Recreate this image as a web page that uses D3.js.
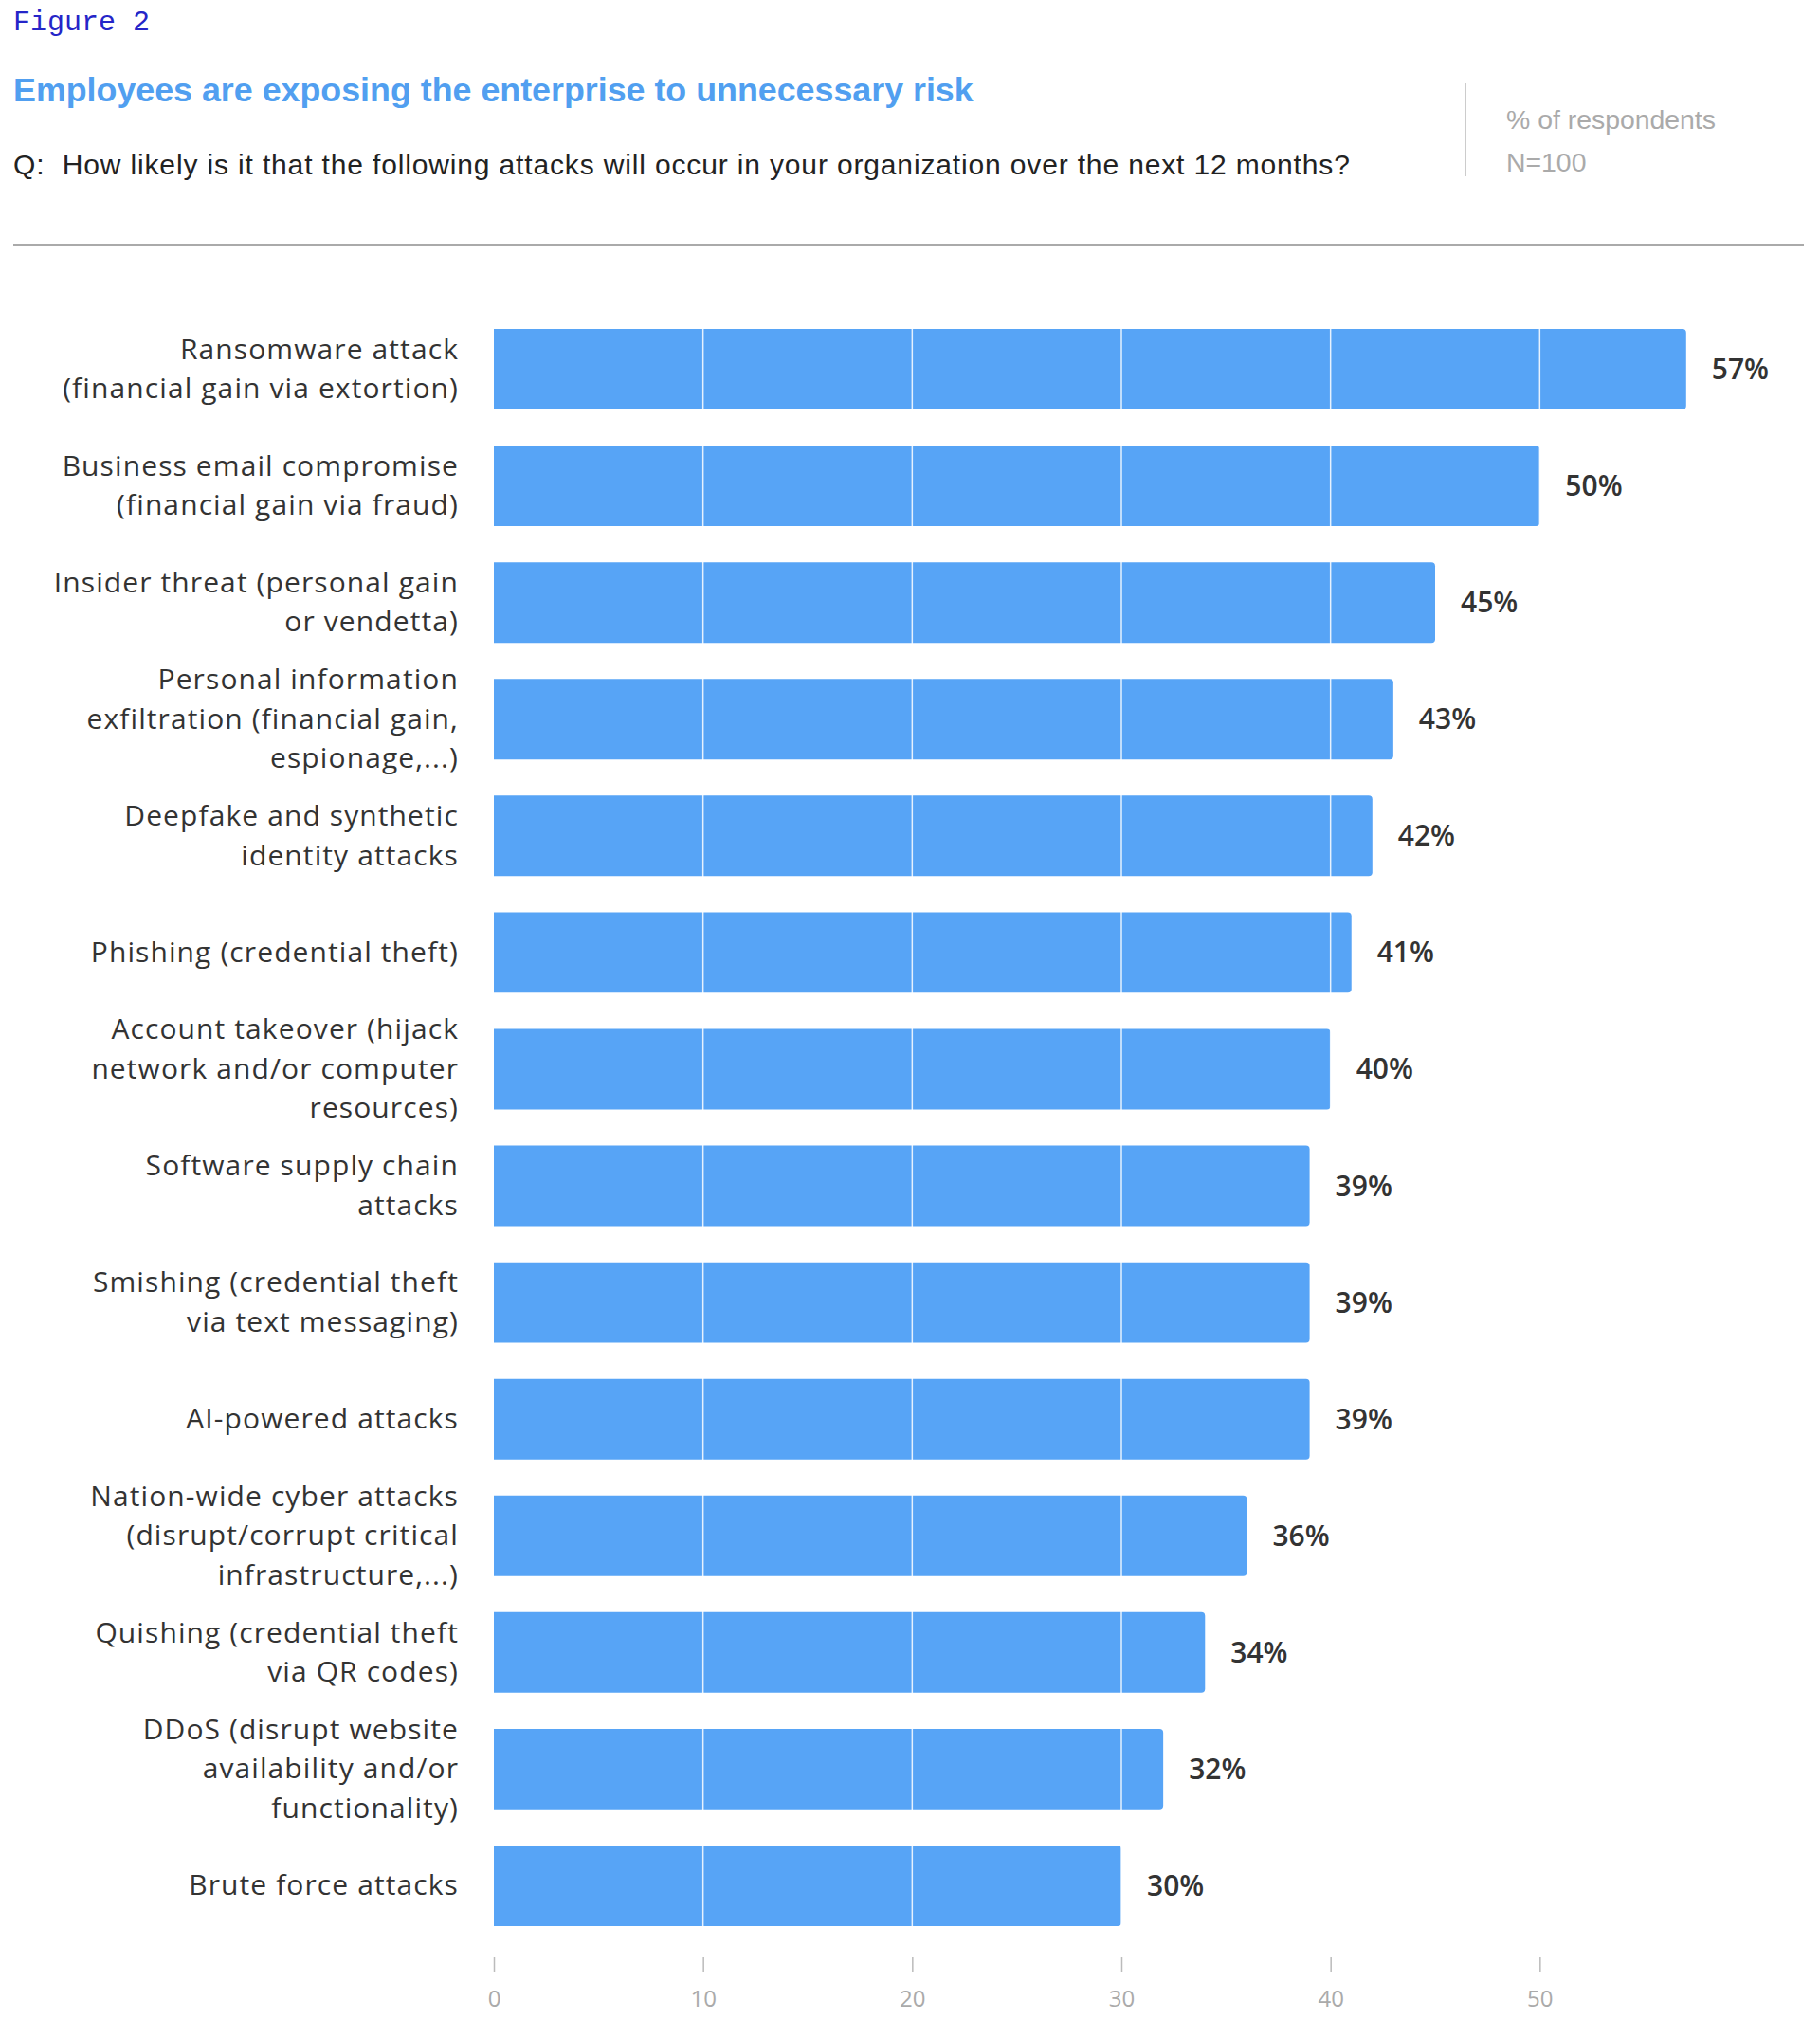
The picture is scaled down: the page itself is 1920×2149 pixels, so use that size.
<!DOCTYPE html>
<html>
<head>
<meta charset="utf-8">
<script src="https://cdn.jsdelivr.net/npm/d3@7"></script>
<style>
    body { margin: 0; background: #fff; }
    svg { display: block; }
    .cat { font-family: "Open Sans", sans-serif; font-size: 30px; letter-spacing: 1.1px; fill: #333; }
    .val { font-family: "Open Sans", sans-serif; font-size: 30px; font-weight: 600; fill: #333; }
    .tick text { font-family: "Open Sans", sans-serif; font-size: 24px; fill: #aaa; }
</style>
</head>
<body>
<svg width="1920" height="2149"></svg>
<script>
const categories = [
    ['Ransomware attack', '(financial gain via extortion)'],
    ['Business email compromise', '(financial gain via fraud)'],
    ['Insider threat (personal gain', 'or vendetta)'],
    ['Personal information', 'exfiltration (financial gain,', 'espionage,...)'],
    ['Deepfake and synthetic', 'identity attacks'],
    ['Phishing (credential theft)'],
    ['Account takeover (hijack', 'network and/or computer', 'resources)'],
    ['Software supply chain', 'attacks'],
    ['Smishing (credential theft', 'via text messaging)'],
    ['AI-powered attacks'],
    ['Nation-wide cyber attacks', '(disrupt/corrupt critical', 'infrastructure,...)'],
    ['Quishing (credential theft', 'via QR codes)'],
    ['DDoS (disrupt website', 'availability and/or', 'functionality)'],
    ['Brute force attacks']
];
const values = [57, 50, 45, 43, 42, 41, 40, 39, 39, 39, 36, 34, 32, 30];
const xTicks = [0, 10, 20, 30, 40, 50];

document.addEventListener('DOMContentLoaded', () => {
    const svg = d3.select('svg');

    // header
    svg.append('text')
        .attr('x', 14).attr('y', 32)
        .attr('font-family', '"Courier New", "Liberation Mono", monospace')
        .attr('font-size', 30)
        .attr('fill', '#2525c8')
        .text('Figure 2');

    svg.append('text')
        .attr('x', 14).attr('y', 107)
        .attr('font-family', '"Liberation Sans", Arial, sans-serif')
        .attr('font-size', 35.8)
        .attr('font-weight', 'bold')
        .attr('fill', '#519ff0')
        .text('Employees are exposing the enterprise to unnecessary risk');

    svg.append('text')
        .attr('x', 14).attr('y', 184)
        .attr('font-family', '"Liberation Sans", Arial, sans-serif')
        .attr('font-size', 30)
        .attr('letter-spacing', 0.85)
        .attr('fill', '#222')
        .attr('xml:space', 'preserve')
        .text('Q:  How likely is it that the following attacks will occur in your organization over the next 12 months?');

    svg.append('line')
        .attr('x1', 1546).attr('x2', 1546)
        .attr('y1', 88).attr('y2', 186)
        .attr('stroke', '#ccc').attr('stroke-width', 2);

    svg.append('text')
        .attr('x', 1589).attr('y', 136)
        .attr('font-family', '"Liberation Sans", Arial, sans-serif')
        .attr('font-size', 28.4)
        .attr('fill', '#aaa')
        .text('% of respondents');

    svg.append('text')
        .attr('x', 1589).attr('y', 181)
        .attr('font-family', '"Liberation Sans", Arial, sans-serif')
        .attr('font-size', 28.4)
        .attr('fill', '#aaa')
        .text('N=100');

    svg.append('line')
        .attr('x1', 14).attr('x2', 1903)
        .attr('y1', 258).attr('y2', 258)
        .attr('stroke', '#aaa').attr('stroke-width', 2);

    // chart
    const x = d3.scaleLinear().domain([0, 60]).range([521, 1845]);
    const y = d3.scaleBand()
        .domain(d3.range(values.length))
        .range([328, 2051])
        .paddingInner(0.31)
        .paddingOuter(0.155);

    const bh = y.bandwidth();
    const r = 4;
    const barPath = (d, i) => {
        const x0 = x(0), x1 = x(d), y0 = y(i), y1 = y(i) + bh;
        return `M${x0},${y0}H${x1 - r}Q${x1},${y0} ${x1},${y0 + r}V${y1 - r}Q${x1},${y1} ${x1 - r},${y1}H${x0}Z`;
    };

    svg.append('g')
        .selectAll('path')
        .data(values)
        .enter().append('path')
        .attr('d', barPath)
        .attr('fill', '#57a4f6');

    // white gridlines over the bars
    svg.append('g')
        .selectAll('line')
        .data(xTicks.slice(1))
        .enter().append('line')
        .attr('x1', d => x(d)).attr('x2', d => x(d))
        .attr('y1', y(0)).attr('y2', y(values.length - 1) + bh)
        .attr('stroke', '#fff')
        .attr('stroke-opacity', 0.85)
        .attr('stroke-width', 1.5);

    svg.append('g')
        .selectAll('text')
        .data(values)
        .enter().append('text')
        .attr('class', 'val')
        .attr('x', d => x(d) + 27)
        .attr('y', (d, i) => y(i) + bh / 2)
        .attr('dy', '0.35em')
        .text(d => d + '%');

    const lh = 41.5;
    const labels = svg.append('g')
        .selectAll('text')
        .data(categories)
        .enter().append('text')
        .attr('class', 'cat')
        .attr('text-anchor', 'end')
        .attr('y', (d, i) => y(i) + bh / 2);

    labels.selectAll('tspan')
        .data(d => d.map((t, j) => ({ t, j, n: d.length })))
        .enter().append('tspan')
        .attr('x', 484)
        .attr('dy', d => d.j === 0 ? ((-(d.n - 1) / 2) * lh + 10) : lh)
        .text(d => d.t);

    const axis = d3.axisBottom(x)
        .tickValues(xTicks)
        .tickSize(15)
        .tickPadding(20);

    svg.append('g')
        .attr('transform', 'translate(0,2065)')
        .call(axis)
        .call(g => g.select('.domain').remove())
        .call(g => g.selectAll('.tick line').attr('stroke', '#bbb').attr('stroke-width', 1.5));
});
</script>
</body>
</html>
